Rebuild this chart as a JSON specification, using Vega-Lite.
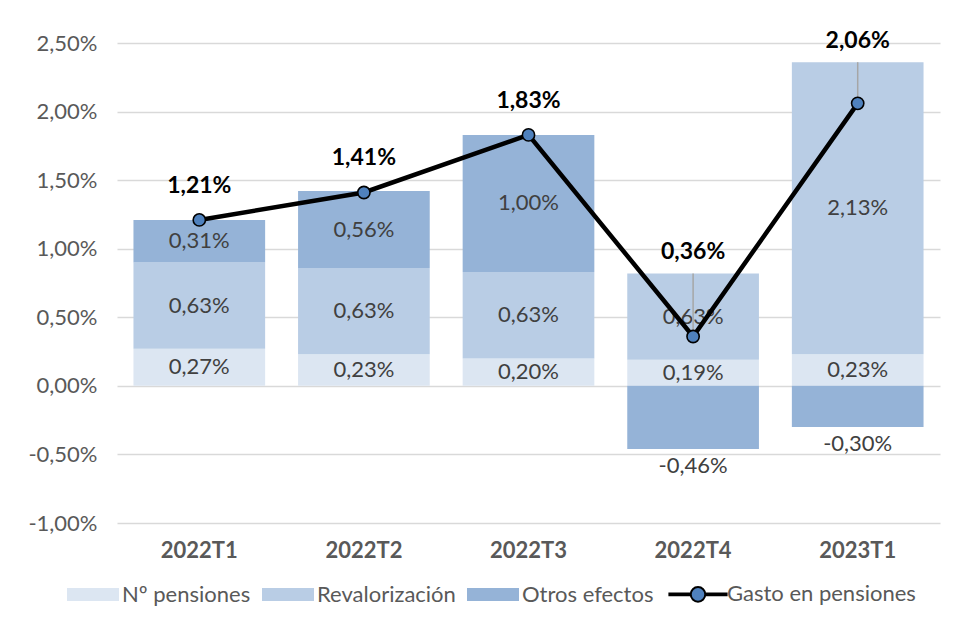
{
  "$schema": "https://vega.github.io/schema/vega-lite/v6.json",
  "width": 823,
  "height": 480,
  "autosize": {"type": "none"},
  "padding": {"left": 117, "top": 43, "right": 15, "bottom": 100},
  "background": "white",
  "config": {
    "locale": {"number": {"decimal": ",", "thousands": ".", "grouping": [3], "currency": ["", " €"], "minus": "-"}},
    "view": {"stroke": null},
    "font": "Lato"
  },
  "data": {
    "values": [
      {"q": "2022T1", "serie": "Nº pensiones", "v": 0.0027},
      {"q": "2022T1", "serie": "Revalorización", "v": 0.0063},
      {"q": "2022T1", "serie": "Otros efectos", "v": 0.0031},
      {"q": "2022T1", "serie": "Gasto en pensiones", "v": 0.0121},
      {"q": "2022T2", "serie": "Nº pensiones", "v": 0.0023},
      {"q": "2022T2", "serie": "Revalorización", "v": 0.0063},
      {"q": "2022T2", "serie": "Otros efectos", "v": 0.0056},
      {"q": "2022T2", "serie": "Gasto en pensiones", "v": 0.0141},
      {"q": "2022T3", "serie": "Nº pensiones", "v": 0.0020},
      {"q": "2022T3", "serie": "Revalorización", "v": 0.0063},
      {"q": "2022T3", "serie": "Otros efectos", "v": 0.0100},
      {"q": "2022T3", "serie": "Gasto en pensiones", "v": 0.0183},
      {"q": "2022T4", "serie": "Nº pensiones", "v": 0.0019},
      {"q": "2022T4", "serie": "Revalorización", "v": 0.0063},
      {"q": "2022T4", "serie": "Otros efectos", "v": -0.0046},
      {"q": "2022T4", "serie": "Gasto en pensiones", "v": 0.0036},
      {"q": "2023T1", "serie": "Nº pensiones", "v": 0.0023},
      {"q": "2023T1", "serie": "Revalorización", "v": 0.0213},
      {"q": "2023T1", "serie": "Otros efectos", "v": -0.0030},
      {"q": "2023T1", "serie": "Gasto en pensiones", "v": 0.0206}
    ]
  },
  "transform": [
    {"calculate": "indexof(['Nº pensiones','Revalorización','Otros efectos','Gasto en pensiones'], datum.serie)", "as": "k"}
  ],
  "encoding": {
    "x": {
      "field": "q", "type": "nominal", "title": null,
      "scale": {"paddingInner": 0.2, "paddingOuter": 0.1},
      "axis": {"labelAngle": 0, "ticks": false, "domain": false, "labelFontWeight": "bold", "labelFontSize": 22, "labelColor": "#595959", "labelPadding": 17}
    }
  },
  "layer": [
    {
      "transform": [
        {"filter": "datum.serie !== 'Gasto en pensiones'"},
        {"stack": "v", "groupby": ["q"], "sort": [{"field": "k", "order": "ascending"}], "as": ["y0", "y1"], "offset": "zero"}
      ],
      "mark": {"type": "bar"},
      "encoding": {
        "y": {
          "field": "y0", "type": "quantitative", "title": null,
          "scale": {"domain": [-0.01, 0.025], "nice": false, "zero": false},
          "axis": {"values": [-0.01, -0.005, 0, 0.005, 0.01, 0.015, 0.02, 0.025], "format": ".2%", "ticks": false, "domain": false, "labelFontSize": 22, "labelColor": "#595959", "labelPadding": 20, "gridColor": "#d9d9d9", "gridWidth": 1.5}
        },
        "y2": {"field": "y1"},
        "color": {
          "field": "serie", "type": "nominal",
          "scale": {"domain": ["Nº pensiones", "Revalorización", "Otros efectos", "Gasto en pensiones"], "range": ["#dce6f2", "#b9cde5", "#95b3d7", "#4f81bd"]},
          "legend": {
            "orient": "none", "legendX": -35, "legendY": 540, "direction": "horizontal", "title": null,
            "labelFontSize": 22, "labelColor": "#595959", "labelOffset": 18, "columnPadding": 11, "labelLimit": 400,
            "symbolType": "M-1,-0.25H1V0.25H-1Z", "symbolSize": 2704, "symbolOpacity": 1,
            "encode": {
              "symbols": {
                "update": {
                  "shape": {"signal": "datum.value === 'Gasto en pensiones' ? 'M-1.1,-0.03H-0.3V0.03H-1.1Z M0.3,-0.03H1.1V0.03H0.3Z M-0.28,0A0.28,0.28,0,1,0,0.28,0A0.28,0.28,0,1,0,-0.28,0Z' : 'M-1,-0.25H1V0.25H-1Z'"},
                  "stroke": {"signal": "datum.value === 'Gasto en pensiones' ? '#000000' : 'transparent'"},
                  "strokeWidth": {"signal": "datum.value === 'Gasto en pensiones' ? 2 : 0"}
                }
              }
            }
          }
        }
      }
    },
    {
      "transform": [
        {"filter": "datum.serie !== 'Gasto en pensiones'"},
        {"stack": "v", "groupby": ["q"], "sort": [{"field": "k", "order": "ascending"}], "as": ["y0", "y1"], "offset": "zero"},
        {"filter": "datum.v > 0"},
        {"calculate": "(datum.y0 + datum.y1) / 2", "as": "mid"}
      ],
      "mark": {"type": "text", "fontSize": 22, "color": "#404040", "baseline": "middle"},
      "encoding": {
        "y": {"field": "mid", "type": "quantitative", "title": null},
        "text": {"field": "v", "type": "quantitative", "format": ".2%"}
      }
    },
    {
      "transform": [
        {"filter": "datum.serie !== 'Gasto en pensiones'"},
        {"stack": "v", "groupby": ["q"], "sort": [{"field": "k", "order": "ascending"}], "as": ["y0", "y1"], "offset": "zero"},
        {"filter": "datum.v < 0"}
      ],
      "mark": {"type": "text", "fontSize": 22, "color": "#404040", "baseline": "middle", "dy": 17},
      "encoding": {
        "y": {"field": "y1", "type": "quantitative", "title": null},
        "text": {"field": "v", "type": "quantitative", "format": ".2%"}
      }
    },
    {
      "transform": [
        {"calculate": "datum.serie === 'Gasto en pensiones' ? 0 : max(datum.v, 0)", "as": "pos"},
        {"calculate": "datum.serie === 'Gasto en pensiones' ? datum.v : -1", "as": "g"},
        {"aggregate": [{"op": "sum", "field": "pos", "as": "top"}, {"op": "max", "field": "g", "as": "gasto"}], "groupby": ["q"]},
        {"filter": "datum.top - datum.gasto > 0.001"}
      ],
      "mark": {"type": "rule", "color": "#a6a6a6", "strokeWidth": 1.5},
      "encoding": {
        "y": {"field": "gasto", "type": "quantitative", "title": null},
        "y2": {"field": "top"}
      }
    },
    {
      "transform": [{"filter": "datum.serie === 'Gasto en pensiones'"}],
      "mark": {"type": "line", "color": "#000000", "strokeWidth": 4.5},
      "encoding": {
        "y": {"field": "v", "type": "quantitative", "title": null}
      }
    },
    {
      "transform": [{"filter": "datum.serie === 'Gasto en pensiones'"}],
      "mark": {"type": "point", "filled": true, "fill": "#4f81bd", "stroke": "#000000", "strokeWidth": 1.6, "size": 150, "opacity": 1},
      "encoding": {
        "y": {"field": "v", "type": "quantitative", "title": null}
      }
    },
    {
      "transform": [
        {"calculate": "datum.serie === 'Gasto en pensiones' ? 0 : max(datum.v, 0)", "as": "pos"},
        {"calculate": "datum.serie === 'Gasto en pensiones' ? datum.v : -1", "as": "g"},
        {"aggregate": [{"op": "sum", "field": "pos", "as": "top"}, {"op": "max", "field": "g", "as": "gasto"}], "groupby": ["q"]},
        {"filter": "datum.top - datum.gasto <= 0.001"}
      ],
      "mark": {"type": "text", "fontSize": 23, "fontWeight": "bold", "color": "#000000", "baseline": "middle", "dy": -34},
      "encoding": {
        "y": {"field": "gasto", "type": "quantitative", "title": null},
        "text": {"field": "gasto", "type": "quantitative", "format": ".2%"}
      }
    },
    {
      "transform": [
        {"calculate": "datum.serie === 'Gasto en pensiones' ? 0 : max(datum.v, 0)", "as": "pos"},
        {"calculate": "datum.serie === 'Gasto en pensiones' ? datum.v : -1", "as": "g"},
        {"aggregate": [{"op": "sum", "field": "pos", "as": "top"}, {"op": "max", "field": "g", "as": "gasto"}], "groupby": ["q"]},
        {"filter": "datum.top - datum.gasto > 0.001"}
      ],
      "mark": {"type": "text", "fontSize": 23, "fontWeight": "bold", "color": "#000000", "baseline": "middle", "dy": -21},
      "encoding": {
        "y": {"field": "top", "type": "quantitative", "title": null},
        "text": {"field": "gasto", "type": "quantitative", "format": ".2%"}
      }
    }
  ]
}
